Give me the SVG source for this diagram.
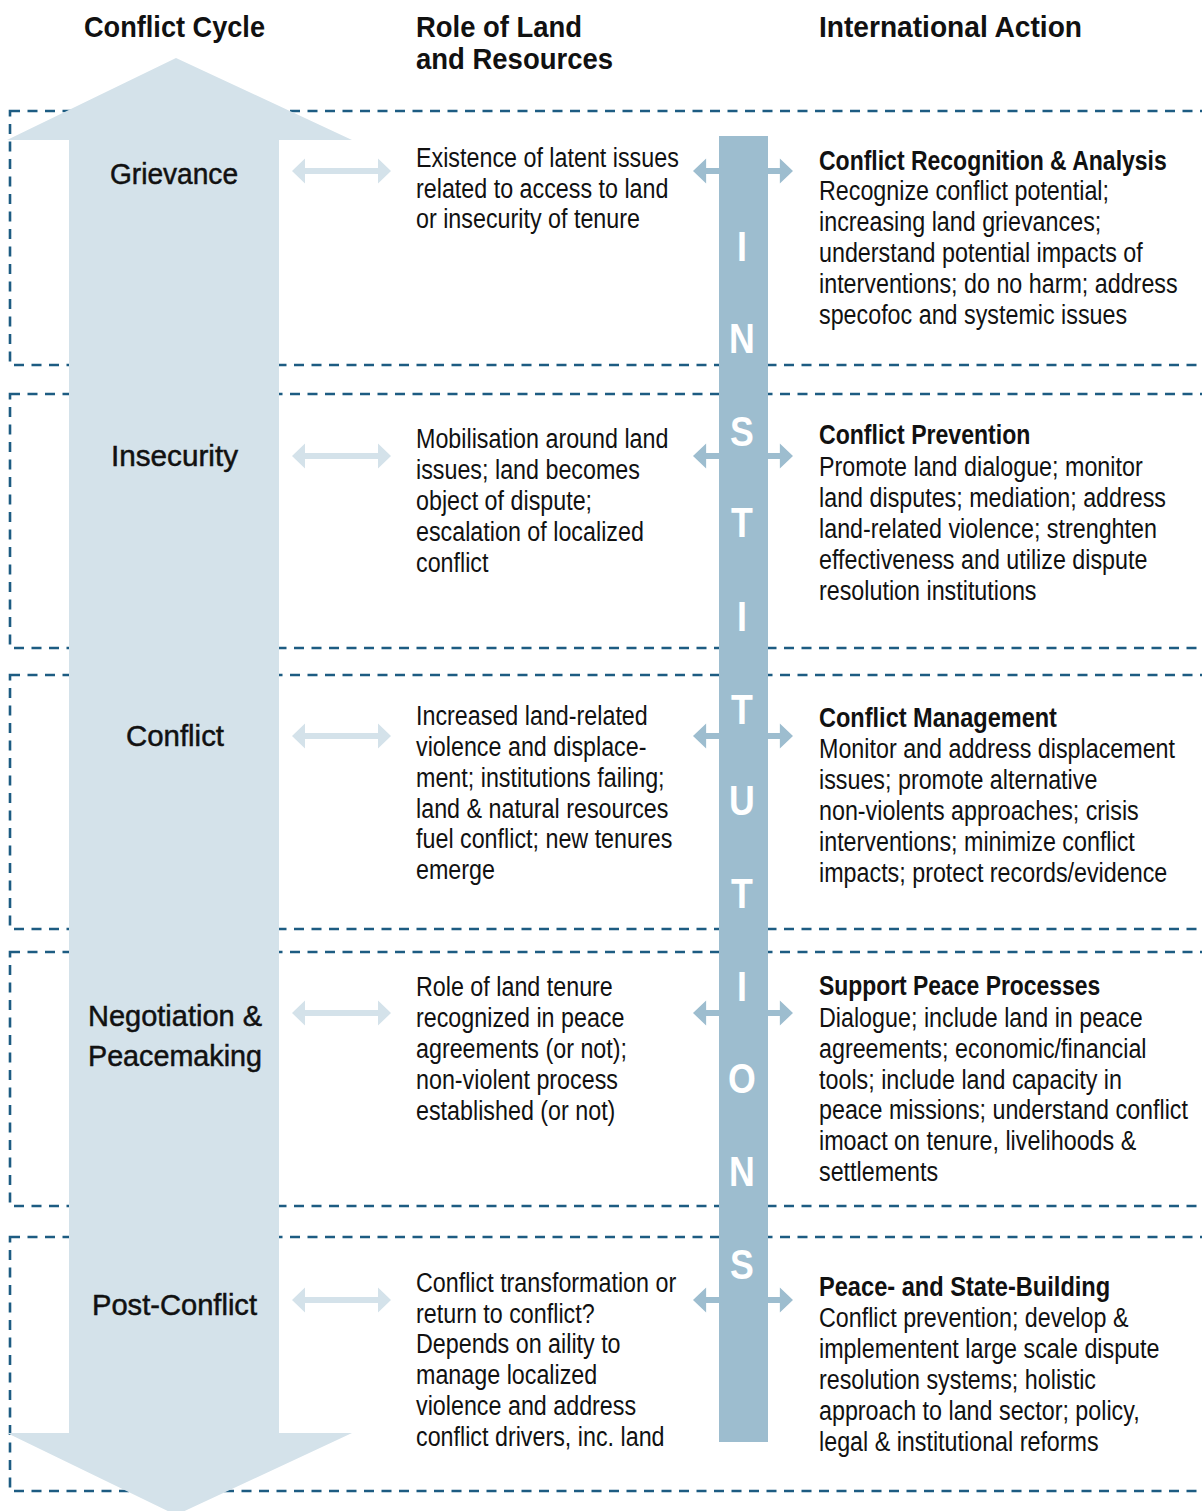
<svg xmlns="http://www.w3.org/2000/svg" xmlns:xlink="http://www.w3.org/1999/xlink" width="1202" height="1511" viewBox="0 0 1202 1511">
<style>
text{font-family:"Liberation Sans",Arial,sans-serif;fill:#111}
.hd{font-size:30px;font-weight:bold}
.lb{font-size:30px;stroke:#111;stroke-width:0.5}
.bd{font-size:28px}
.bh{font-size:28px;font-weight:bold}
.inst{font-size:42px;font-weight:bold;fill:#fff;text-anchor:middle}
.sec{fill:none;stroke:#1d5c82;stroke-width:2.6;stroke-dasharray:10 7.5}
</style>
<defs>
<path id="dbl" d="M0,0 L13,-12.5 L13,-3 L86,-3 L86,-12.5 L99,0 L86,12.5 L86,3 L13,3 L13,12.5 Z"/>
</defs>
<rect width="1202" height="1511" fill="#fff"/>
<g id="sections">
<rect class="sec" x="10" y="111" width="1210" height="254"/>
<rect class="sec" x="10" y="394" width="1210" height="254"/>
<rect class="sec" x="10" y="675" width="1210" height="254"/>
<rect class="sec" x="10" y="952" width="1210" height="254"/>
<rect class="sec" x="10" y="1237" width="1210" height="254"/>
</g>
<g id="headers">
<text class="hd" x="84" y="37" textLength="181" lengthAdjust="spacingAndGlyphs">Conflict Cycle</text>
<text class="hd" x="416" y="37" textLength="166" lengthAdjust="spacingAndGlyphs">Role of Land</text>
<text class="hd" x="416" y="69" textLength="197" lengthAdjust="spacingAndGlyphs">and Resources</text>
<text class="hd" x="819" y="37" textLength="263" lengthAdjust="spacingAndGlyphs">International Action</text>
</g>
<g id="cycle-arrow">
<polygon points="176,58 352,140 279,140 279,1433 352,1433 176,1515 7,1433 69,1433 69,140 7,140" fill="#d4e2ea"/>
<text class="lb" x="110" y="184" textLength="128" lengthAdjust="spacingAndGlyphs">Grievance</text>
<text class="lb" x="111" y="466" textLength="127" lengthAdjust="spacingAndGlyphs">Insecurity</text>
<text class="lb" x="126" y="746" textLength="98" lengthAdjust="spacingAndGlyphs">Conflict</text>
<text class="lb" x="88" y="1026" textLength="174" lengthAdjust="spacingAndGlyphs">Negotiation &amp;</text>
<text class="lb" x="88" y="1066" textLength="174" lengthAdjust="spacingAndGlyphs">Peacemaking</text>
<text class="lb" x="92" y="1315" textLength="165" lengthAdjust="spacingAndGlyphs">Post-Conflict</text>
</g>
<g id="connectors">
<use xlink:href="#dbl" href="#dbl" transform="translate(292,171)" fill="#d4e2ea"/>
<use xlink:href="#dbl" href="#dbl" transform="translate(292,456)" fill="#d4e2ea"/>
<use xlink:href="#dbl" href="#dbl" transform="translate(292,736)" fill="#d4e2ea"/>
<use xlink:href="#dbl" href="#dbl" transform="translate(292,1013)" fill="#d4e2ea"/>
<use xlink:href="#dbl" href="#dbl" transform="translate(292,1300)" fill="#d4e2ea"/>
<use xlink:href="#dbl" href="#dbl" transform="translate(693,171) scale(1.01,1)" fill="#9dbdcf"/>
<use xlink:href="#dbl" href="#dbl" transform="translate(693,456) scale(1.01,1)" fill="#9dbdcf"/>
<use xlink:href="#dbl" href="#dbl" transform="translate(693,736) scale(1.01,1)" fill="#9dbdcf"/>
<use xlink:href="#dbl" href="#dbl" transform="translate(693,1013) scale(1.01,1)" fill="#9dbdcf"/>
<use xlink:href="#dbl" href="#dbl" transform="translate(693,1300) scale(1.01,1)" fill="#9dbdcf"/>
</g>
<g id="institutions">
<rect x="719" y="136" width="49" height="1306" fill="#9dbdcf"/>
<g transform="translate(742,0) scale(0.85,1)">
<text class="inst" x="0" y="261">I</text>
<text class="inst" x="0" y="353">N</text>
<text class="inst" x="0" y="446">S</text>
<text class="inst" x="0" y="537">T</text>
<text class="inst" x="0" y="631">I</text>
<text class="inst" x="0" y="724">T</text>
<text class="inst" x="0" y="815">U</text>
<text class="inst" x="0" y="908">T</text>
<text class="inst" x="0" y="1001">I</text>
<text class="inst" x="0" y="1093">O</text>
<text class="inst" x="0" y="1186">N</text>
<text class="inst" x="0" y="1279">S</text>
</g>
</g>
<g id="role-grievance" transform="translate(416,0) scale(0.832,1)">
<text class="bd" x="0" y="167">Existence of latent issues</text>
<text class="bd" x="0" y="198">related to access to land</text>
<text class="bd" x="0" y="228">or insecurity of tenure</text>
</g>
<g id="role-insecurity" transform="translate(416,0) scale(0.832,1)">
<text class="bd" x="0" y="448">Mobilisation around land</text>
<text class="bd" x="0" y="479">issues; land becomes</text>
<text class="bd" x="0" y="510">object of dispute;</text>
<text class="bd" x="0" y="541">escalation of localized</text>
<text class="bd" x="0" y="572">conflict</text>
</g>
<g id="role-conflict" transform="translate(416,0) scale(0.832,1)">
<text class="bd" x="0" y="725">Increased land-related</text>
<text class="bd" x="0" y="756">violence and displace-</text>
<text class="bd" x="0" y="787">ment; institutions failing;</text>
<text class="bd" x="0" y="818">land &amp; natural resources</text>
<text class="bd" x="0" y="848">fuel conflict; new tenures</text>
<text class="bd" x="0" y="879">emerge</text>
</g>
<g id="role-negotiation" transform="translate(416,0) scale(0.832,1)">
<text class="bd" x="0" y="996">Role of land tenure</text>
<text class="bd" x="0" y="1027">recognized in peace</text>
<text class="bd" x="0" y="1058">agreements (or not);</text>
<text class="bd" x="0" y="1089">non-violent process</text>
<text class="bd" x="0" y="1120">established (or not)</text>
</g>
<g id="role-postconflict" transform="translate(416,0) scale(0.832,1)">
<text class="bd" x="0" y="1292">Conflict transformation or</text>
<text class="bd" x="0" y="1323">return to conflict?</text>
<text class="bd" x="0" y="1353">Depends on aility to</text>
<text class="bd" x="0" y="1384">manage localized</text>
<text class="bd" x="0" y="1415">violence and address</text>
<text class="bd" x="0" y="1446">conflict drivers, inc. land</text>
</g>
<g id="action-recognition" transform="translate(819,0) scale(0.832,1)">
<text class="bh" x="0" y="170" textLength="418" lengthAdjust="spacingAndGlyphs">Conflict Recognition &amp; Analysis</text>
<text class="bd" x="0" y="200">Recognize conflict potential;</text>
<text class="bd" x="0" y="231">increasing land grievances;</text>
<text class="bd" x="0" y="262">understand potential impacts of</text>
<text class="bd" x="0" y="293">interventions; do no harm; address</text>
<text class="bd" x="0" y="324">specofoc and systemic issues</text>
</g>
<g id="action-prevention" transform="translate(819,0) scale(0.832,1)">
<text class="bh" x="0" y="444" textLength="254" lengthAdjust="spacingAndGlyphs">Conflict Prevention</text>
<text class="bd" x="0" y="476">Promote land dialogue; monitor</text>
<text class="bd" x="0" y="507">land disputes; mediation; address</text>
<text class="bd" x="0" y="538">land-related violence; strenghten</text>
<text class="bd" x="0" y="569">effectiveness and utilize dispute</text>
<text class="bd" x="0" y="600">resolution institutions</text>
</g>
<g id="action-management" transform="translate(819,0) scale(0.832,1)">
<text class="bh" x="0" y="727" textLength="286" lengthAdjust="spacingAndGlyphs">Conflict Management</text>
<text class="bd" x="0" y="758">Monitor and address displacement</text>
<text class="bd" x="0" y="789">issues; promote alternative</text>
<text class="bd" x="0" y="820">non-violents approaches; crisis</text>
<text class="bd" x="0" y="851">interventions; minimize conflict</text>
<text class="bd" x="0" y="882">impacts; protect records/evidence</text>
</g>
<g id="action-peace" transform="translate(819,0) scale(0.832,1)">
<text class="bh" x="0" y="995" textLength="338" lengthAdjust="spacingAndGlyphs">Support Peace Processes</text>
<text class="bd" x="0" y="1027">Dialogue; include land in peace</text>
<text class="bd" x="0" y="1058">agreements; economic/financial</text>
<text class="bd" x="0" y="1089">tools; include land capacity in</text>
<text class="bd" x="0" y="1119">peace missions; understand conflict</text>
<text class="bd" x="0" y="1150">imoact on tenure, livelihoods &amp;</text>
<text class="bd" x="0" y="1181">settlements</text>
</g>
<g id="action-building" transform="translate(819,0) scale(0.832,1)">
<text class="bh" x="0" y="1296" textLength="350" lengthAdjust="spacingAndGlyphs">Peace- and State-Building</text>
<text class="bd" x="0" y="1327">Conflict prevention; develop &amp;</text>
<text class="bd" x="0" y="1358">implementent large scale dispute</text>
<text class="bd" x="0" y="1389">resolution systems; holistic</text>
<text class="bd" x="0" y="1420">approach to land sector; policy,</text>
<text class="bd" x="0" y="1451">legal &amp; institutional reforms</text>
</g>
</svg>
